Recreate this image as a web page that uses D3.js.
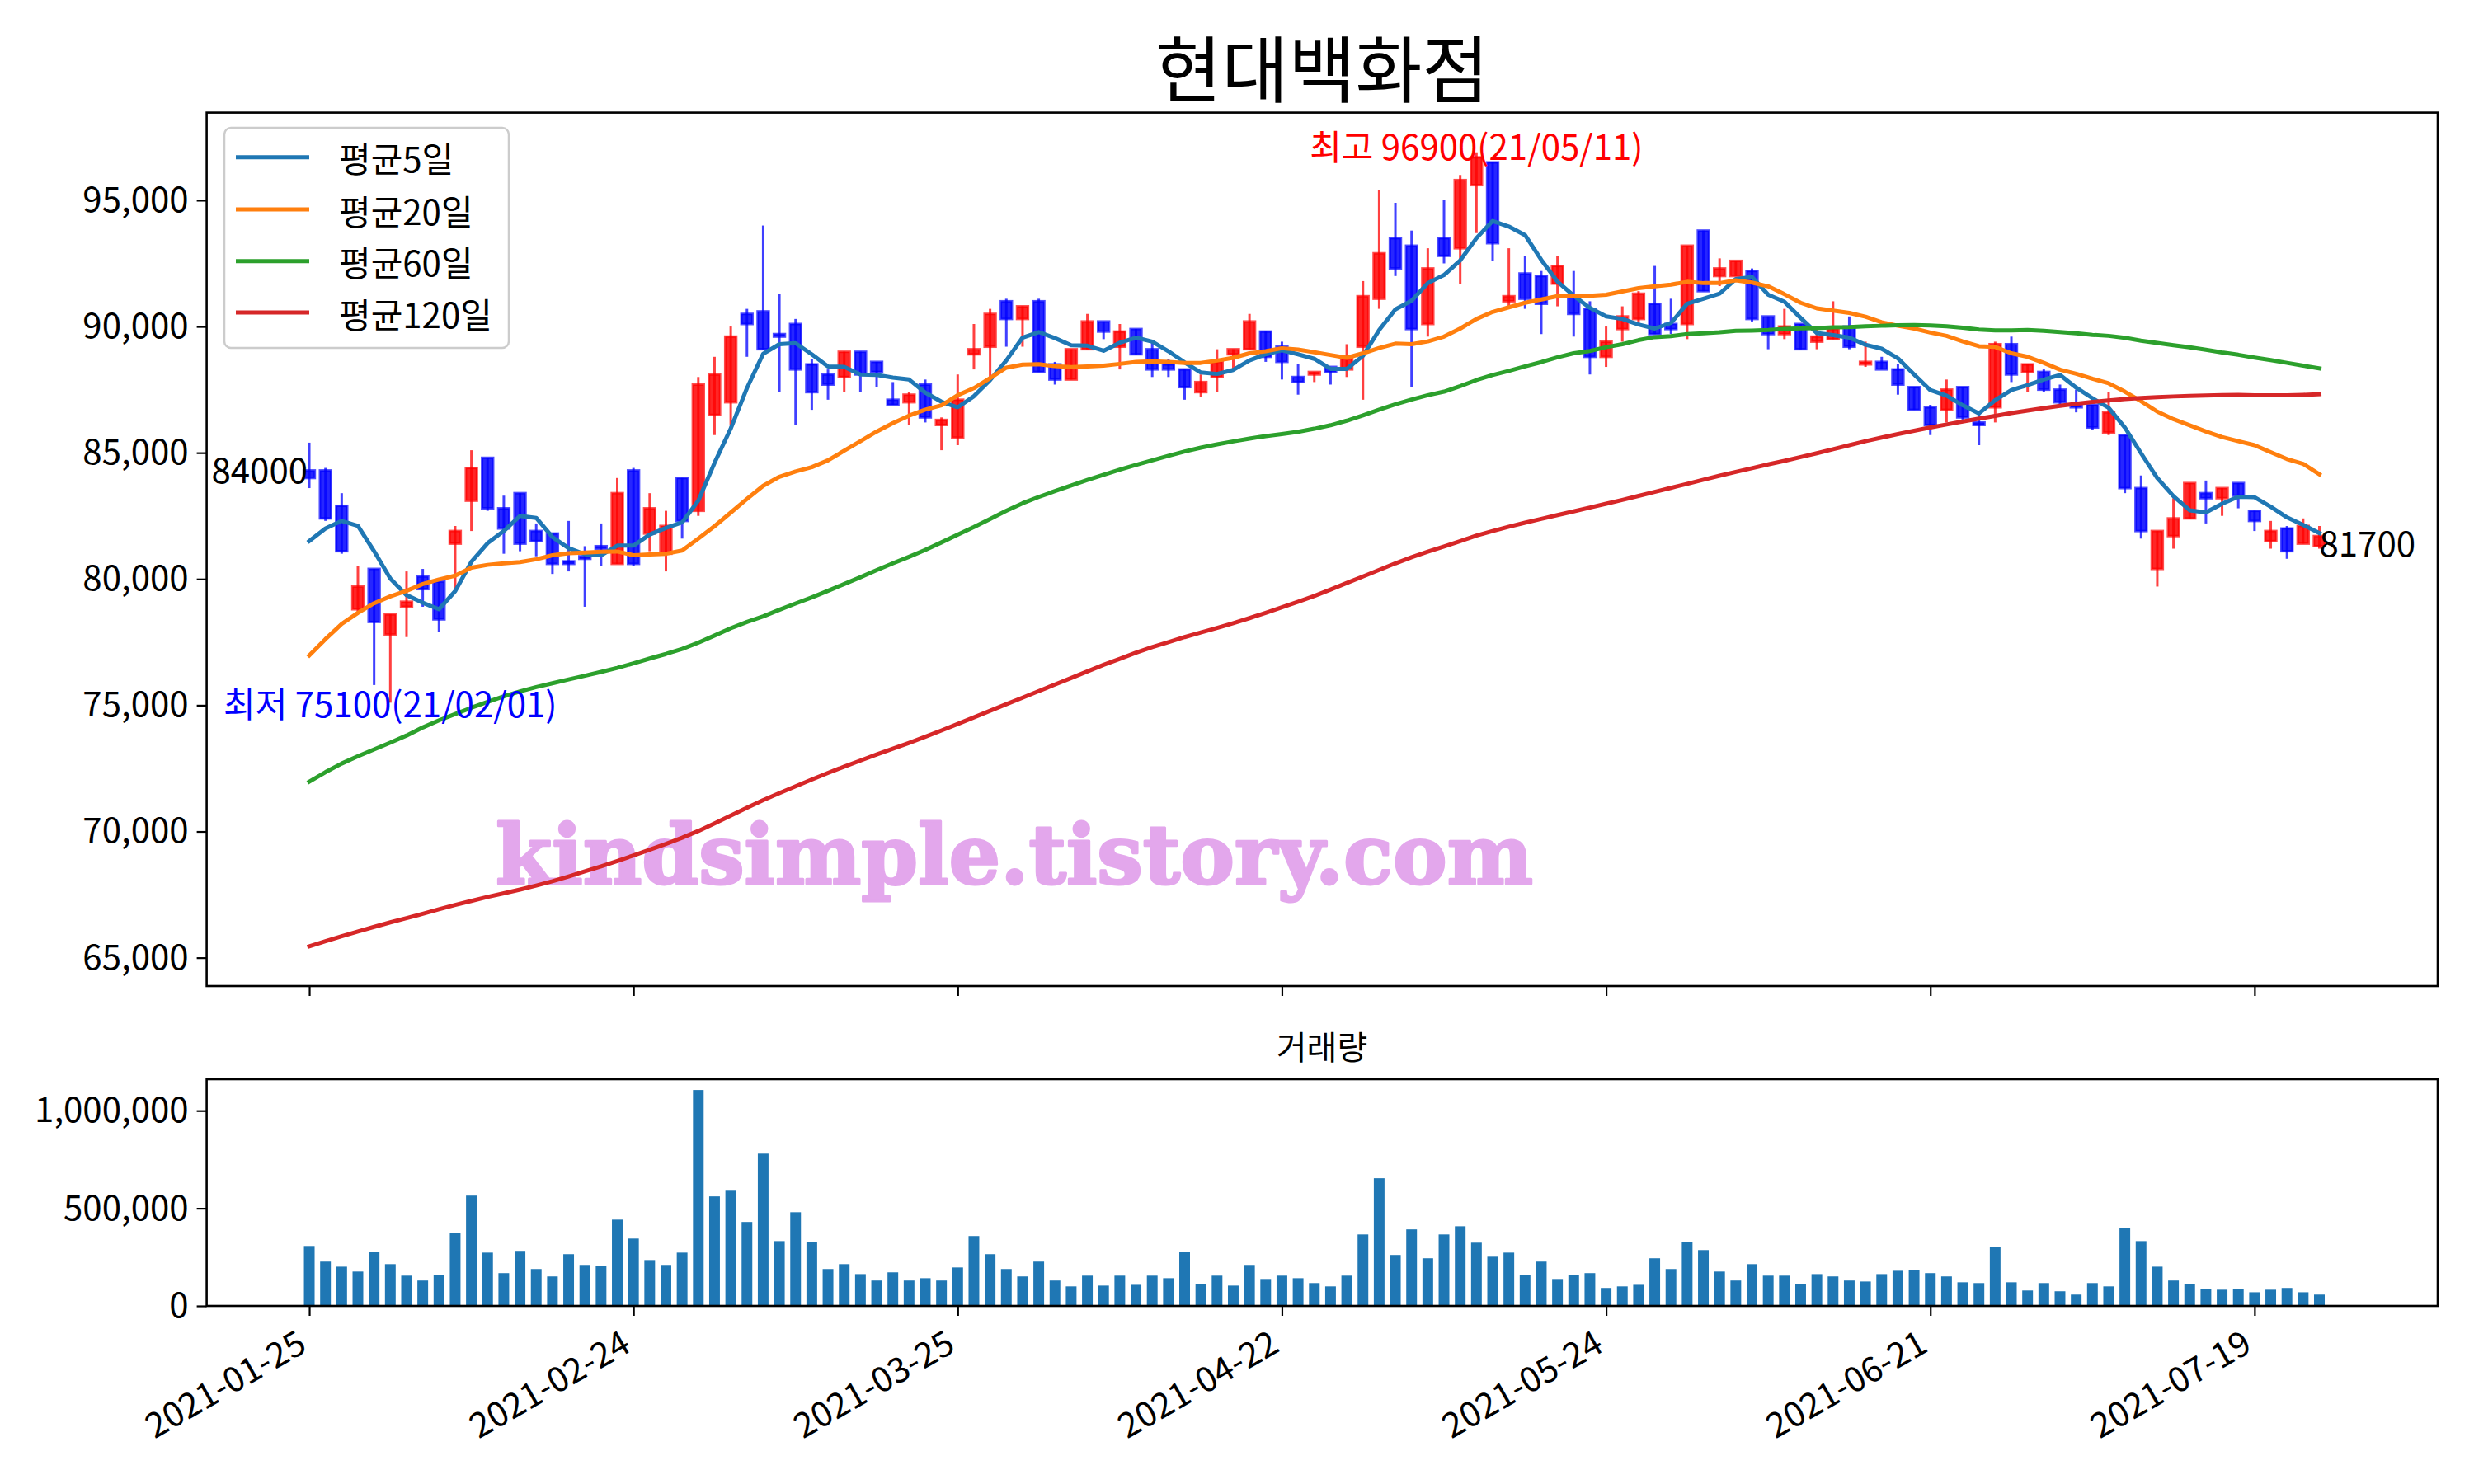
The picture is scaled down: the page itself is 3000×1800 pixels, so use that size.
<!DOCTYPE html>
<html><head><meta charset="utf-8">
<script src="https://cdn.jsdelivr.net/npm/d3@7"></script>
<style>
html,body{margin:0;padding:0;background:#fff;}
svg{display:block;}
</style></head>
<body>
<svg id="chart" width="3000" height="1800"></svg>
<script>
const title = "현대백화점";
const volTitle = "거래량";
const dates = [
"2021-01-25","2021-01-26","2021-01-27","2021-01-28","2021-01-29",
"2021-02-01","2021-02-02","2021-02-03","2021-02-04","2021-02-05","2021-02-08","2021-02-09","2021-02-10","2021-02-15","2021-02-16","2021-02-17","2021-02-18","2021-02-19","2021-02-22","2021-02-23","2021-02-24","2021-02-25","2021-02-26",
"2021-03-02","2021-03-03","2021-03-04","2021-03-05","2021-03-08","2021-03-09","2021-03-10","2021-03-11","2021-03-12","2021-03-15","2021-03-16","2021-03-17","2021-03-18","2021-03-19","2021-03-22","2021-03-23","2021-03-24","2021-03-25","2021-03-26","2021-03-29","2021-03-30","2021-03-31",
"2021-04-01","2021-04-02","2021-04-05","2021-04-06","2021-04-07","2021-04-08","2021-04-09","2021-04-12","2021-04-13","2021-04-14","2021-04-15","2021-04-16","2021-04-19","2021-04-20","2021-04-21","2021-04-22","2021-04-23","2021-04-26","2021-04-27","2021-04-28","2021-04-29","2021-04-30",
"2021-05-03","2021-05-04","2021-05-06","2021-05-07","2021-05-10","2021-05-11","2021-05-12","2021-05-13","2021-05-14","2021-05-17","2021-05-18","2021-05-20","2021-05-21","2021-05-24","2021-05-25","2021-05-26","2021-05-27","2021-05-28","2021-05-31",
"2021-06-01","2021-06-02","2021-06-03","2021-06-04","2021-06-07","2021-06-08","2021-06-09","2021-06-10","2021-06-11","2021-06-14","2021-06-15","2021-06-16","2021-06-17","2021-06-18","2021-06-21","2021-06-22","2021-06-23","2021-06-24","2021-06-25","2021-06-28","2021-06-29","2021-06-30",
"2021-07-01","2021-07-02","2021-07-05","2021-07-06","2021-07-07","2021-07-08","2021-07-09","2021-07-12","2021-07-13","2021-07-14","2021-07-15","2021-07-16","2021-07-19","2021-07-20","2021-07-21","2021-07-22","2021-07-23"];

const tickIndex = [0,20,40,60,80,100,120];
const priceTicks = [65000,70000,75000,80000,85000,90000,95000];
const volumeTicks = [0,500000,1000000];

const open = [84300,84300,82900,78800,80400,77800,78900,80100,79900,81400,83100,84800,82800,83400,81900,81800,80700,80900,81300,80600,
84300,81800,81000,84000,82700,86500,87000,90500,90600,89700,90100,88500,88100,88000,89000,88600,87100,87000,87700,86100,
85600,88900,89200,91000,90300,91000,88500,87900,89100,90200,89200,89900,89100,88500,88300,87400,88000,88900,89100,89800,
89200,88000,88100,88400,88300,89200,91100,93500,93200,90100,93500,93100,95600,96500,91000,92100,92000,91700,91200,90700,
88800,89900,90300,90900,90100,90100,93800,92000,92000,92200,90400,89700,90100,89400,89500,90000,88500,88600,88300,87600,
86800,86700,87600,86200,86800,89300,88200,88200,87500,86900,86900,85800,85700,83600,80400,81700,82400,83400,83200,83800,
82700,81500,82000,81400,81300];
const high = [85400,84400,83400,80500,80400,78600,80300,80400,79900,82100,85100,84800,83300,83400,82200,81800,82300,81300,82200,84000,
84400,83400,82700,84000,88000,88800,90000,90700,94000,91300,90300,88700,88300,89000,89000,88600,87800,87400,87900,86400,
88100,90100,90700,91100,90800,91100,88600,89100,90500,90200,90100,89900,89400,88700,88300,88100,89100,89100,90500,89800,
89400,88500,88200,88400,89300,91800,95400,94900,93800,93100,95000,96000,96900,96500,93100,92800,92200,92800,92200,91000,
90000,90800,91400,92400,91100,93200,93800,92700,92600,92300,90400,90700,90100,90000,91000,90400,89400,88800,88500,87600,
86900,87900,87600,86600,89400,89600,88500,88300,87700,87500,86900,87400,85700,84100,81900,83200,83800,83900,83600,83800,
82700,82300,82100,82400,82100];
const low = [83600,82300,81000,78700,75800,75100,77700,78900,77900,79600,81900,82700,81000,81100,80900,80200,80300,78900,80500,80600,
80500,81100,80300,81600,82500,85700,86100,88800,89100,87400,86100,86700,87100,87400,87400,87600,86900,86100,86200,85100,
85300,88300,88000,89200,89200,88200,87700,87900,89100,89500,88300,88900,88000,88000,87100,87200,87400,88300,89100,88600,
87900,87300,87800,87700,88000,87100,90700,92000,87600,89600,92500,91700,93700,92600,90800,90700,89700,90800,89600,88100,
88400,89400,90100,89700,89700,89500,91400,91600,92000,90200,89100,89500,89100,89100,89500,89100,88400,88300,87300,86700,
85700,86200,86300,85300,86200,87800,87400,87400,86900,86600,85900,85700,83400,81600,79700,81200,82400,82200,82500,82800,
81900,81200,80800,81400,81200];
const close = [84000,82400,81100,79700,78300,78600,79100,79600,78400,81900,84400,82800,82000,81400,81500,80600,80600,80800,81200,83400,
80600,82800,82100,82300,87700,88100,89600,90100,89100,89600,88300,87400,87700,89000,88100,88200,86900,87300,86400,86300,
87100,89100,90500,90300,90800,88200,87900,89100,90200,89800,89800,88900,88300,88300,87600,87800,88600,89100,90200,88800,
88600,87800,88200,88200,88800,91200,92900,92300,89900,92300,92800,95800,96700,93300,91200,91100,90900,92400,90500,88800,
89400,90400,91300,89700,89900,93200,91400,92300,92600,90300,89700,90000,89100,89600,89900,89200,88600,88300,87700,86700,
86100,87500,86400,86100,89300,88100,88500,87500,87000,86800,86000,86600,83600,81900,81900,82400,83800,83200,83600,83300,
82300,81900,81100,82100,81700];
const volume = [307000,227000,201000,176000,277000,214000,155000,130000,159000,375000,
565000,273000,168000,282000,189000,151000,265000,210000,206000,442000,
345000,235000,210000,273000,1106000,561000,590000,430000,780000,332000,
480000,328000,189000,214000,163000,130000,172000,130000,142000,130000,
197000,358000,265000,189000,151000,227000,130000,100000,155000,104000,
155000,108000,155000,142000,277000,113000,155000,104000,210000,138000,
155000,142000,117000,100000,155000,366000,654000,261000,392000,244000,
366000,408000,324000,252000,273000,159000,227000,138000,159000,168000,
92000,100000,108000,244000,189000,328000,286000,176000,130000,214000,
155000,155000,113000,163000,151000,130000,125000,163000,180000,185000,
168000,151000,121000,117000,303000,121000,79000,117000,75000,58000,
117000,100000,400000,332000,201000,130000,113000,87000,83000,87000,
70000,83000,92000,70000,58000];

const ma5 = [81500,82000,82300,82100,81100,80020,79360,79060,78800,79520,80680,81420,81900,82500,82420,81660,81220,80980,80940,81320,
81320,81760,82020,82240,83100,84600,85960,87560,88920,89300,89340,88900,88420,88400,88100,88080,87980,87900,87380,87020,
86800,87240,87880,88660,89560,89780,89540,89260,89240,89040,89360,89560,89400,89020,88580,88180,88120,88280,88660,88900,
89060,88900,88720,88320,88320,88840,89860,90680,91020,91720,92040,92620,93500,94180,93960,93620,92640,91780,91220,90740,
90400,90300,90080,89920,90140,90900,91100,91300,91880,91960,91260,90980,90340,89740,89660,89560,89280,89120,88740,88100,
87480,87260,86880,86560,87080,87480,87680,87900,88080,87580,87160,86780,86000,84980,84000,83280,82720,82640,82980,83260,
83240,82860,82440,82140,81820];
const ma20 = [76970,77620,78220,78660,79040,79310,79530,79800,79980,80130,80450,80560,80620,80670,80780,80940,81020,81050,81080,81090,
80940,80970,81000,81130,81600,82090,82630,83170,83690,84050,84260,84430,84700,85080,85460,85840,86170,86470,86710,86880,
87280,87560,87960,88370,88490,88510,88430,88390,88420,88450,88520,88600,88620,88600,88560,88560,88650,88760,88940,89020,
89140,89090,88980,88870,88760,88940,89150,89320,89300,89410,89600,89920,90300,90580,90760,90940,91070,91200,91210,91220,
91260,91390,91520,91590,91660,91770,91720,91720,91830,91740,91590,91280,90940,90720,90630,90540,90390,90170,90030,89920,
89760,89630,89410,89220,89190,88940,88800,88560,88290,88130,87930,87750,87420,87040,86630,86330,86090,85840,85620,85460,
85300,85020,84750,84560,84150];
const ma60 = [71970,72350,72690,72980,73250,73520,73800,74120,74400,74650,74900,75130,75350,75550,75720,75870,76020,76170,76320,76480,
76660,76850,77030,77230,77480,77760,78050,78300,78520,78780,79030,79270,79530,79800,80070,80350,80620,80880,81150,81450,
81760,82060,82380,82700,83000,83250,83480,83700,83920,84130,84330,84520,84700,84880,85050,85200,85330,85450,85560,85660,
85740,85830,85950,86090,86270,86480,86710,86920,87110,87280,87420,87640,87880,88080,88240,88420,88590,88780,88940,89030,
89180,89300,89460,89580,89620,89700,89730,89770,89830,89840,89860,89900,89930,89940,89970,89980,90010,90030,90050,90060,
90040,90010,89950,89880,89850,89850,89860,89830,89780,89730,89670,89630,89550,89440,89350,89260,89180,89080,88970,88880,
88770,88670,88560,88450,88340];
const ma120 = [65450,65650,65850,66040,66220,66400,66570,66740,66920,67090,67250,67410,67550,67700,67860,68030,68220,68420,68620,68830,
69050,69280,69510,69750,70020,70320,70630,70940,71240,71520,71790,72060,72320,72570,72810,73050,73280,73510,73750,74000,
74260,74520,74780,75040,75300,75560,75820,76080,76340,76600,76840,77080,77300,77500,77700,77880,78060,78250,78450,78660,
78880,79100,79330,79580,79840,80100,80360,80620,80860,81080,81290,81500,81720,81900,82070,82230,82380,82530,82680,82830,
82980,83130,83290,83450,83610,83770,83930,84090,84240,84390,84540,84680,84830,84980,85140,85300,85460,85600,85740,85870,
86000,86120,86240,86350,86460,86570,86670,86770,86860,86940,87010,87070,87130,87170,87200,87230,87250,87270,87280,87290,
87276,87272,87272,87292,87320];

const maNames = ["평균5일","평균20일","평균60일","평균120일"];
const maColors = ["#1f77b4","#ff7f0e","#2ca02c","#d62728"];
const maSeries = [ma5, ma20, ma60, ma120];

const highLabel = "최고 96900(21/05/11)";
const lowLabel = "최저 75100(21/02/01)";
const firstLabel = "84000";
const lastLabel = "81700";
const watermark = "kindsimple.tistory.com";

// ---------- layout ----------
const svg = d3.select("#chart");
const FONT = "'Noto Sans CJK KR','Noto Sans',sans-serif";
svg.style("font-family", FONT);
const L = 250.6, R = 2956;
const mainTop = 136.6, mainBot = 1196;
const volTop = 1309, volBot = 1584;
const FS = 42;   // tick labels
const LS = 42;   // annotation / legend labels

const x = d3.scaleLinear().domain([-6.33, 131.3]).range([L, R]);
const y = d3.scaleLinear().domain([63878, 98472]).range([mainBot, mainTop]);
const yv = d3.scaleLinear().domain([0, 1161300]).range([volBot, volTop]);

const n = close.length;
const idx = d3.range(n);

// title
svg.append("text").attr("x", 1603).attr("y", 78).attr("text-anchor","middle")
  .attr("dominant-baseline","central").style("font-size", "88px").text(title);

// clip for main
svg.append("clipPath").attr("id","mclip").append("rect")
  .attr("x", L).attr("y", mainTop).attr("width", R-L).attr("height", mainBot-mainTop);

// watermark
svg.append("text").attr("x", 601).attr("y", 1072)
  .style("font-family","'DejaVu Serif','Liberation Serif',serif").style("font-weight","900")
  .style("font-size", "100px").attr("fill","#e3a7ec")
  .attr("stroke","#e3a7ec").attr("stroke-width", 3).attr("stroke-linejoin","round")
  .attr("textLength", 1258).attr("lengthAdjust","spacingAndGlyphs")
  .text(watermark);

const plot = svg.append("g").attr("clip-path","url(#mclip)");
const cw = x(0.68) - x(0);

// candles
const cg = plot.append("g");
idx.forEach(i => {
  const up = close[i] >= open[i];
  const col = up ? "#ff0000" : "#0000ff";
  cg.append("line").attr("x1", x(i)).attr("x2", x(i))
    .attr("y1", y(high[i])).attr("y2", y(low[i]))
    .attr("stroke", col).attr("stroke-opacity", 0.75).attr("stroke-width", 3);
  const top = y(Math.max(open[i], close[i]));
  const bot = y(Math.min(open[i], close[i]));
  cg.append("rect").attr("x", x(i) - cw/2).attr("y", top)
    .attr("width", cw).attr("height", Math.max(bot - top, 1.5))
    .attr("fill", col).attr("fill-opacity", 0.85)
    .attr("stroke", col).attr("stroke-opacity", 0.7).attr("stroke-width", 3);
});

// moving averages
const line = d3.line().x((d,i) => x(i)).y(d => y(d));
maSeries.forEach((s, k) => {
  plot.append("path").attr("d", line(s)).attr("fill","none")
    .attr("stroke", maColors[k]).attr("stroke-width", 5)
    .attr("stroke-linejoin","round").attr("stroke-linecap","square");
});

// annotations
const iMax = d3.maxIndex(high), iMin = d3.minIndex(low);
function label(xp, yp, anchor, color, txt) {
  svg.append("text").attr("x", xp).attr("y", yp)
    .attr("text-anchor", anchor).attr("dominant-baseline","central")
    .style("font-size", LS + "px").attr("fill", color).text(txt);
}
label(x(iMax), y(high[iMax]) - 9, "middle", "#ff0000", highLabel);
label(x(iMin), y(low[iMin]) - 1, "middle", "#0000ff", lowLabel);
label(x(0) - 2, y(close[0]) - 12, "end", "#000", firstLabel);
label(x(n-1), y(close[n-1]) + 6, "start", "#000", lastLabel);

// main axes
const yAxis = d3.axisLeft(y).tickValues(priceTicks).tickFormat(d3.format(",")).tickSize(12).tickPadding(10);
const gy = svg.append("g").attr("transform", `translate(${L},0)`).call(yAxis);
const xAxisMain = d3.axisBottom(x).tickValues(tickIndex).tickFormat("").tickSize(12);
const gxm = svg.append("g").attr("transform", `translate(0,${mainBot})`).call(xAxisMain);
svg.append("rect").attr("x", L).attr("y", mainTop).attr("width", R-L).attr("height", mainBot-mainTop)
  .attr("fill","none").attr("stroke","#000").attr("stroke-width", 2.6);

// legend
const lg = svg.append("g");
lg.append("rect").attr("x", 272).attr("y", 155).attr("width", 345).attr("height", 267)
  .attr("rx", 8).attr("fill","#fff").attr("fill-opacity",0.8).attr("stroke","#cccccc").attr("stroke-width",2.5);
const legY = [190.7, 254, 316.7, 379];
maNames.forEach((nm, k) => {
  lg.append("line").attr("x1", 286).attr("x2", 375).attr("y1", legY[k]).attr("y2", legY[k])
    .attr("stroke", maColors[k]).attr("stroke-width", 5);
  lg.append("text").attr("x", 411).attr("y", legY[k]).attr("dominant-baseline","central")
    .style("font-size", LS + "px").text(nm);
});

// volume
svg.append("text").attr("x", 1603).attr("y", 1268).attr("text-anchor","middle")
  .attr("dominant-baseline","central").style("font-size", "40px").text(volTitle);
const bw = x(0.66) - x(0);
svg.append("g").selectAll("rect").data(idx).join("rect")
  .attr("x", i => x(i) - bw/2).attr("y", i => yv(volume[i]))
  .attr("width", bw).attr("height", i => volBot - yv(volume[i]))
  .attr("fill", "#1f77b4");
const yvAxis = d3.axisLeft(yv).tickValues(volumeTicks).tickFormat(d3.format(",")).tickSize(12).tickPadding(10);
const gyv = svg.append("g").attr("transform", `translate(${L},0)`).call(yvAxis);
const xAxisVol = d3.axisBottom(x).tickValues(tickIndex).tickFormat(i => dates[i]).tickSize(12).tickPadding(8);
const gxv = svg.append("g").attr("transform", `translate(0,${volBot})`).call(xAxisVol);
svg.append("rect").attr("x", L).attr("y", volTop).attr("width", R-L).attr("height", volBot-volTop)
  .attr("fill","none").attr("stroke","#000").attr("stroke-width", 2.6);

[gy, gxm, gyv, gxv].forEach(g => {
  g.select(".domain").remove();
  g.selectAll(".tick line").attr("stroke","#000").attr("stroke-width", 2.2);
  g.selectAll(".tick text").style("font-size", FS + "px").attr("fill","#000")
    .style("font-family", FONT);
});
gxv.selectAll(".tick text")
  .attr("text-anchor","end").attr("dominant-baseline","hanging")
  .attr("dy", null).attr("y", null)
  .attr("transform", `translate(${-FS*0.5},${20}) rotate(-30)`);
</script>
</body></html>
